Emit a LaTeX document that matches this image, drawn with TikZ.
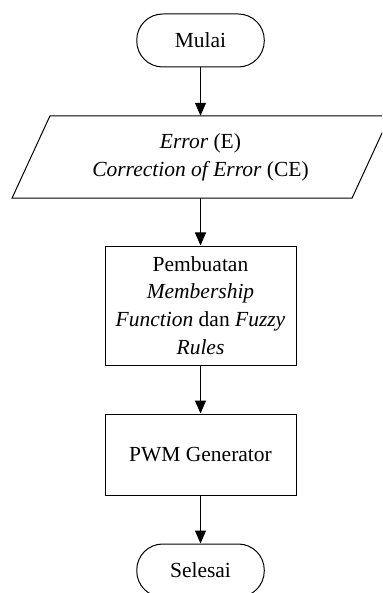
\documentclass[tikz,border=0pt]{standalone}
\usepackage{fontspec}
\setmainfont{Liberation Serif}
\usetikzlibrary{arrows.meta}
\begin{document}
\begin{tikzpicture}[x=1pt,y=1pt,
  every node/.style={font=\fontsize{21.5}{27.8}\selectfont, align=center, inner sep=0pt},
  terminal/.style={draw, line width=1pt, rounded corners=26pt, minimum width=127.5pt, minimum height=53pt},
  procbox/.style={draw, line width=1pt, minimum width=191pt},
  flow/.style={-{Triangle[width=11pt,length=13pt]}, line width=1pt}]
\useasboundingbox (0,0) rectangle (382,-593);
\clip (0,0) rectangle (382,-593);
\node[terminal] (start) at (200.5,-40.5) {Mulai};
\node[minimum height=82pt, minimum width=200pt] (io) at (200.5,-157) {\textit{Error} (E)\\\textit{Correction of Error} (CE)};
\draw[line width=1pt] ([xshift=-150.5pt]io.north) -- ([xshift=189.5pt]io.north)
  -- ([xshift=151.5pt]io.south) -- ([xshift=-188.5pt]io.south) -- cycle;
\node[procbox, minimum height=119pt] (fuzzy) at (200.5,-305.5) {Pembuatan\\\textit{Membership}\\\textit{Function} dan \textit{Fuzzy}\\\textit{Rules}};
\node[procbox, minimum height=81pt] (pwm) at (200.5,-454.5) {PWM Generator};
\node[terminal] (end) at (200.5,-570.5) {Selesai};
\draw[flow] (start) -- (io);
\draw[flow] (io) -- (fuzzy);
\draw[flow] (fuzzy) -- (pwm);
\draw[flow] (pwm) -- (end);
\end{tikzpicture}
\end{document}
